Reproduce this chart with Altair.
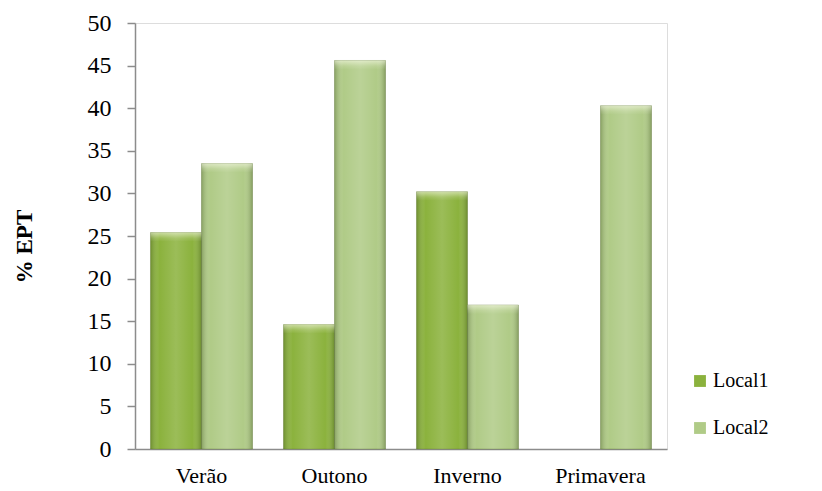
import altair as alt
import pandas as pd

# Seasonal %EPT values at two sampling sites
seasons = ["Verão", "Outono", "Inverno", "Primavera"]
local1 = [25.4, 14.6, 30.2, None]
local2 = [33.5, 45.6, 16.9, 40.3]
series = ["Local1", "Local2"]
colors = ["#8BB23D", "#B0CB87"]

rows = []
for s, a, b in zip(seasons, local1, local2):
    if a is not None:
        rows.append({"Estação": s, "Local": "Local1", "EPT": a})
    if b is not None:
        rows.append({"Estação": s, "Local": "Local2", "EPT": b})
df = pd.DataFrame(rows)

FONT = "Liberation Serif"

x_enc = alt.X(
    "Estação:N",
    sort=seasons,
    scale=alt.Scale(paddingInner=0.233, paddingOuter=0.1165),
    axis=alt.Axis(
        title=None,
        labelAngle=0,
        ticks=False,
        labelPadding=16,
        labelFontSize=22,
        labelFont=FONT,
        labelColor="#000000",
        domainColor="#8c8c8c",
        domainWidth=1.5,
    ),
)
xoff = alt.XOffset("Local:N", scale=alt.Scale(domain=series, paddingInner=0, paddingOuter=0))
y_enc = alt.Y(
    "EPT:Q",
    scale=alt.Scale(domain=[0, 50], nice=False),
    axis=alt.Axis(
        title="% EPT",
        values=list(range(0, 51, 5)),
        grid=False,
        tickSize=8,
        tickColor="#8c8c8c",
        tickWidth=1.5,
        domainColor="#8c8c8c",
        domainWidth=1.5,
        labelPadding=16,
        labelFontSize=24,
        labelFont=FONT,
        labelColor="#000000",
        titleFont=FONT,
        titleFontSize=23,
        titleFontWeight="bold",
        titleColor="#000000",
        titleX=-111,
        titleY=223,
        titleAlign="center",
        titleBaseline="middle",
        titleAngle=-90,
    ),
)

base = alt.Chart(df)

bars = base.mark_bar(
    stroke="#5c7430", strokeOpacity=0.35, strokeWidth=1
).encode(
    x=x_enc,
    xOffset=xoff,
    y=y_enc,
    color=alt.Color(
        "Local:N",
        scale=alt.Scale(domain=series, range=colors),
        legend=alt.Legend(
            title=None,
            orient="none",
            legendX=555,
            legendY=348,
            symbolType="square",
            symbolSize=140,
            symbolStrokeWidth=0,
            labelFont=FONT,
            labelFontSize=20,
            labelColor="#000000",
            rowPadding=27,
            labelOffset=3,
        ),
    ),
)

# Cylindrical shading over each bar: darker edges, lighter centre
shade = base.mark_bar(
    fill=alt.Gradient(
        gradient="linear",
        x1=0, x2=1, y1=0, y2=0,
        stops=[
            alt.GradientStop(color="rgba(40,60,10,0.30)", offset=0),
            alt.GradientStop(color="rgba(255,255,255,0)", offset=0.18),
            alt.GradientStop(color="rgba(255,255,255,0.14)", offset=0.5),
            alt.GradientStop(color="rgba(255,255,255,0)", offset=0.82),
            alt.GradientStop(color="rgba(40,60,10,0.32)", offset=1),
        ],
    )
).encode(x=x_enc, xOffset=xoff, y=y_enc)

# Bevelled cap: a light band just below each bar's top edge
cap = base.mark_bar(
    y2Offset=9,
    fill=alt.Gradient(
        gradient="linear",
        x1=0, x2=0, y1=0, y2=1,
        stops=[
            alt.GradientStop(color="rgba(255,255,240,0.55)", offset=0),
            alt.GradientStop(color="rgba(255,255,240,0.15)", offset=0.6),
            alt.GradientStop(color="rgba(255,255,240,0)", offset=1),
        ],
    ),
).encode(x=x_enc, xOffset=xoff, y=y_enc, y2=alt.Y2("EPT:Q"))

chart = (
    alt.layer(bars, shade, cap)
    .properties(
        width=532,
        height=426,
        autosize=alt.AutoSizeParams(type="none"),
        padding={"left": 135, "top": 23, "right": 155, "bottom": 42},
    )
    .configure_view(strokeWidth=0, stroke="transparent")
    .configure(background="#ffffff")
)

chart.save("out.html", embed_options={"renderer": "svg", "actions": False})
